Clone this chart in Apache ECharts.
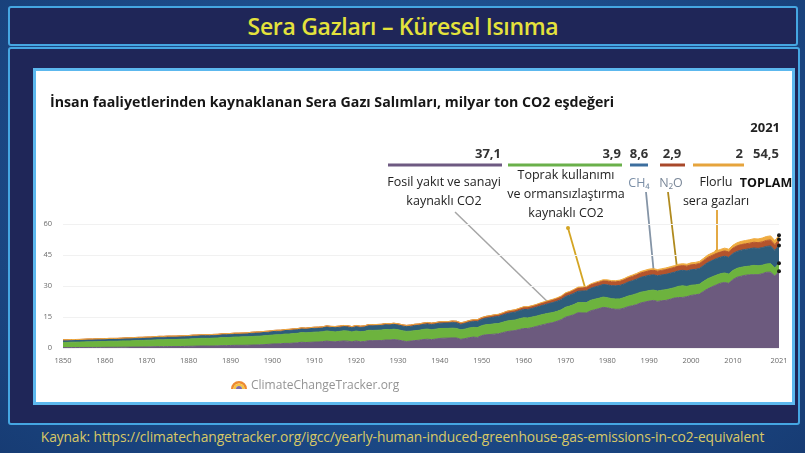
<!DOCTYPE html>
<html>
<head>
<meta charset="utf-8">
<script src="https://cdn.jsdelivr.net/npm/echarts@6/dist/echarts.min.js"></script>
<style>
  body { margin: 0; width: 805px; height: 453px; position: relative; overflow: hidden;
    background: radial-gradient(ellipse at 50% 40%, #2664a6 0%, #1c4a88 60%, #173c74 100%);
    font-family: 'Open Sans', 'DejaVu Sans', sans-serif; }
  .titlebox { position: absolute; left: 8px; top: 6px; width: 786px; height: 36px;
    background: #1f2658; border: 2px solid #45a6e2; border-radius: 3px; }
  .titlebox span { display: block; text-align: center; color: #e4e23c; font-size: 23px;
    font-weight: 600; line-height: 36px; letter-spacing: -0.3px; }
  .frame { position: absolute; left: 8px; top: 47px; width: 788px; height: 374px;
    background: #1f2658; border: 2px solid #45a6e2; border-radius: 3px; }
  .panel { position: absolute; left: 33px; top: 68px; width: 756px; height: 331px;
    background: #ffffff; border: 3px solid #5cb8ee; }
  .footer { position: absolute; left: 0; top: 427px; width: 805px; text-align: center;
    color: #d8c866; font-size: 13.8px; letter-spacing: -0.1px; }
  #chart { position: absolute; left: 0; top: 0; width: 805px; height: 453px; }
</style>
</head>
<body>
<div class="titlebox"><span>Sera Gazları – Küresel Isınma</span></div>
<div class="frame"></div>
<div class="panel"></div>
<div class="footer">Kaynak: https://climatechangetracker.org/igcc/yearly-human-induced-greenhouse-gas-emissions-in-co2-equivalent</div>
<div id="chart"></div>
<script>
// yıllar 1850-2021
const years = []
for (let y = 1850; y <= 2021; y++) years.push(String(y))

// milyar ton CO2 eşdeğeri
const fossilCO2 = [
  0.20, 0.20, 0.21, 0.22, 0.25, 0.25, 0.27, 0.27, 0.28, 0.30,
  0.33, 0.35, 0.35, 0.37, 0.40, 0.42, 0.43, 0.46, 0.47, 0.50,
  0.52, 0.56, 0.62, 0.66, 0.64, 0.68, 0.69, 0.70, 0.71, 0.76,
  0.83, 0.86, 0.91, 0.97, 0.97, 0.96, 0.98, 1.04, 1.13, 1.13,
  1.23, 1.30, 1.31, 1.30, 1.35, 1.42, 1.46, 1.53, 1.61, 1.76,
  1.95, 1.99, 2.04, 2.24, 2.23, 2.37, 2.49, 2.79, 2.64, 2.76,
  2.86, 2.92, 3.07, 3.35, 3.07, 3.00, 3.22, 3.40, 3.32, 2.96,
  3.42, 2.98, 3.15, 3.55, 3.52, 3.58, 3.57, 3.85, 3.85, 4.09,
  3.84, 3.47, 3.14, 3.33, 3.59, 3.75, 4.07, 4.26, 4.05, 4.31,
  4.63, 4.76, 4.78, 4.89, 4.85, 4.20, 4.53, 4.98, 5.27, 5.10,
  6.00, 6.39, 6.51, 6.70, 6.85, 7.43, 7.91, 8.21, 8.43, 8.95,
  9.42, 9.45, 9.84, 10.39, 10.93, 11.42, 11.93, 12.28, 12.93, 13.71,
  14.89, 15.47, 16.11, 17.07, 16.97, 16.96, 17.96, 18.51, 19.06, 19.63,
  19.45, 18.97, 18.72, 18.77, 19.29, 20.04, 20.44, 21.00, 21.80, 22.25,
  22.70, 23.01, 22.55, 22.85, 23.03, 23.55, 24.17, 24.43, 24.48, 24.81,
  25.45, 25.73, 26.07, 27.44, 28.65, 29.58, 30.51, 31.32, 31.70, 31.28,
  33.12, 34.24, 34.75, 35.21, 35.43, 35.48, 35.47, 35.95, 36.65, 36.70,
  34.81, 37.12
]
const landUseCO2 = [
  2.5, 2.5, 2.6, 2.6, 2.6, 2.7, 2.7, 2.7, 2.8, 2.8,
  2.8, 2.9, 2.9, 2.9, 3.0, 3.0, 3.0, 3.1, 3.1, 3.1,
  3.2, 3.2, 3.3, 3.3, 3.3, 3.4, 3.4, 3.4, 3.5, 3.5,
  3.5, 3.6, 3.6, 3.7, 3.7, 3.7, 3.8, 3.8, 3.9, 3.9,
  3.9, 4.0, 4.0, 4.1, 4.1, 4.1, 4.2, 4.2, 4.3, 4.3,
  4.3, 4.4, 4.4, 4.5, 4.5, 4.6, 4.6, 4.7, 4.7, 4.7,
  4.8, 4.8, 4.8, 4.9, 4.9, 4.8, 4.8, 4.9, 4.9, 4.8,
  4.8, 4.9, 4.9, 5.0, 5.0, 5.0, 5.1, 5.1, 5.0, 5.0,
  5.0, 4.9, 4.9, 4.8, 4.8, 4.8, 4.9, 4.9, 4.8, 4.8,
  4.8, 4.7, 4.7, 4.7, 4.6, 4.6, 4.6, 4.7, 4.7, 4.8,
  4.8, 4.9, 4.9, 5.0, 5.0, 5.0, 5.1, 5.1, 5.1, 5.2,
  5.2, 5.1, 5.1, 5.0, 5.0, 5.0, 4.9, 4.9, 4.8, 4.8,
  4.8, 4.8, 4.9, 4.9, 5.0, 5.0, 5.1, 5.1, 5.0, 5.0,
  4.9, 4.9, 5.0, 5.0, 5.1, 5.1, 5.2, 5.3, 5.2, 5.1,
  5.1, 5.0, 5.0, 5.1, 5.2, 5.1, 5.0, 5.4, 5.6, 5.0,
  4.9, 4.8, 4.8, 4.8, 4.9, 4.8, 4.7, 4.6, 4.6, 4.5,
  4.4, 4.3, 4.3, 4.2, 4.2, 4.5, 4.3, 4.1, 4.0, 4.1,
  3.9, 3.9
]
const methane = [
  1.0, 1.0, 1.0, 1.0, 1.0, 1.0, 1.1, 1.1, 1.1, 1.1,
  1.1, 1.1, 1.1, 1.1, 1.1, 1.2, 1.2, 1.2, 1.2, 1.2,
  1.2, 1.2, 1.2, 1.3, 1.3, 1.3, 1.3, 1.3, 1.3, 1.3,
  1.3, 1.4, 1.4, 1.4, 1.4, 1.4, 1.4, 1.4, 1.5, 1.5,
  1.5, 1.5, 1.5, 1.5, 1.5, 1.6, 1.6, 1.6, 1.6, 1.6,
  1.7, 1.7, 1.7, 1.7, 1.8, 1.8, 1.8, 1.8, 1.8, 1.9,
  1.9, 1.9, 1.9, 2.0, 2.0, 2.0, 2.0, 2.0, 2.0, 2.0,
  2.1, 2.1, 2.1, 2.2, 2.2, 2.2, 2.2, 2.3, 2.3, 2.3,
  2.3, 2.3, 2.3, 2.3, 2.4, 2.4, 2.4, 2.5, 2.5, 2.5,
  2.6, 2.6, 2.6, 2.7, 2.7, 2.6, 2.7, 2.8, 2.8, 2.9,
  3.0, 3.1, 3.2, 3.3, 3.4, 3.5, 3.6, 3.7, 3.8, 3.9,
  4.0, 4.1, 4.2, 4.3, 4.4, 4.5, 4.7, 4.8, 4.9, 5.0,
  5.2, 5.3, 5.4, 5.5, 5.6, 5.7, 5.8, 5.9, 6.0, 6.1,
  6.2, 6.3, 6.4, 6.5, 6.6, 6.8, 6.9, 7.0, 7.2, 7.3,
  7.4, 7.4, 7.4, 7.4, 7.4, 7.5, 7.5, 7.5, 7.5, 7.5,
  7.5, 7.5, 7.6, 7.7, 7.8, 7.9, 8.0, 8.0, 8.1, 8.1,
  8.2, 8.2, 8.3, 8.3, 8.4, 8.4, 8.4, 8.5, 8.5, 8.6,
  8.5, 8.6
]
const nitrousOxide = [
  0.3, 0.3, 0.3, 0.3, 0.3, 0.3, 0.3, 0.3, 0.3, 0.3,
  0.3, 0.3, 0.3, 0.3, 0.3, 0.3, 0.3, 0.3, 0.4, 0.4,
  0.4, 0.4, 0.4, 0.4, 0.4, 0.4, 0.4, 0.4, 0.4, 0.4,
  0.4, 0.4, 0.4, 0.4, 0.4, 0.4, 0.4, 0.4, 0.4, 0.4,
  0.4, 0.4, 0.4, 0.4, 0.4, 0.5, 0.5, 0.5, 0.5, 0.5,
  0.5, 0.5, 0.5, 0.5, 0.5, 0.5, 0.5, 0.5, 0.5, 0.5,
  0.5, 0.5, 0.5, 0.5, 0.5, 0.6, 0.6, 0.6, 0.6, 0.6,
  0.6, 0.6, 0.6, 0.6, 0.6, 0.6, 0.6, 0.6, 0.6, 0.6,
  0.6, 0.6, 0.6, 0.7, 0.7, 0.7, 0.7, 0.7, 0.7, 0.7,
  0.7, 0.7, 0.7, 0.8, 0.8, 0.8, 0.8, 0.8, 0.9, 0.9,
  0.9, 0.9, 1.0, 1.0, 1.0, 1.0, 1.1, 1.1, 1.1, 1.1,
  1.2, 1.2, 1.2, 1.2, 1.3, 1.3, 1.3, 1.4, 1.4, 1.4,
  1.5, 1.5, 1.6, 1.6, 1.6, 1.7, 1.7, 1.8, 1.8, 1.8,
  1.9, 1.9, 1.9, 2.0, 2.0, 2.0, 2.1, 2.1, 2.1, 2.2,
  2.2, 2.2, 2.2, 2.2, 2.3, 2.3, 2.3, 2.3, 2.3, 2.3,
  2.4, 2.4, 2.4, 2.4, 2.5, 2.5, 2.5, 2.5, 2.6, 2.6,
  2.6, 2.7, 2.7, 2.7, 2.7, 2.8, 2.8, 2.8, 2.9, 2.9,
  2.8, 2.9
]
const fluorinated = [
  0, 0, 0, 0, 0, 0, 0, 0, 0, 0,
  0, 0, 0, 0, 0, 0, 0, 0, 0, 0,
  0, 0, 0, 0, 0, 0, 0, 0, 0, 0,
  0, 0, 0, 0, 0, 0, 0, 0, 0, 0,
  0, 0, 0, 0, 0, 0, 0, 0, 0, 0,
  0, 0, 0, 0, 0, 0, 0, 0, 0, 0,
  0, 0, 0, 0, 0, 0, 0, 0, 0, 0,
  0, 0, 0, 0, 0, 0, 0, 0, 0, 0,
  0, 0, 0, 0, 0, 0, 0, 0, 0, 0,
  0, 0, 0, 0, 0, 0, 0.01, 0.01, 0.02, 0.02,
  0.03, 0.04, 0.05, 0.06, 0.07, 0.08, 0.09, 0.10, 0.11, 0.12,
  0.13, 0.14, 0.15, 0.17, 0.18, 0.20, 0.21, 0.23, 0.25, 0.27,
  0.30, 0.32, 0.35, 0.37, 0.40, 0.40, 0.42, 0.44, 0.47, 0.50,
  0.52, 0.54, 0.56, 0.58, 0.60, 0.63, 0.66, 0.70, 0.73, 0.76,
  0.78, 0.78, 0.79, 0.80, 0.82, 0.84, 0.86, 0.88, 0.90, 0.93,
  0.96, 0.99, 1.03, 1.07, 1.12, 1.17, 1.22, 1.27, 1.32, 1.35,
  1.42, 1.49, 1.55, 1.60, 1.66, 1.72, 1.78, 1.84, 1.90, 1.95,
  1.96, 2.00
]
const yTicks = [0, 15, 30, 45, 60]

const seriesNames = ['Fosil yakıt ve sanayi kaynaklı CO2', 'Toprak kullanımı ve ormansızlaştırma kaynaklı CO2', 'CH4', 'N2O', 'Florlu sera gazları']
const seriesData = [fossilCO2, landUseCO2, methane, nitrousOxide, fluorinated]
const seriesColors = ['#6c5a7e', '#6db33e', '#2e5d7c', '#b4542c', '#efab40']

const FONT = "'Open Sans', 'DejaVu Sans', sans-serif"

let myChart = echarts.init(document.getElementById('chart'), null, { renderer: 'canvas' })

// 2021'deki son noktaları siyah nokta ile göster
function withEndDot(arr) {
  return arr.map((v, i) => {
    if (i === arr.length - 1) {
      return { value: v, symbol: 'circle', symbolSize: 4, itemStyle: { color: '#1a1a1a' } }
    }
    return v
  })
}

function txt(text, x, y, opt) {
  return {
    type: 'text', x: x, y: y, silent: true,
    style: Object.assign({ text: text, fontFamily: FONT, fontSize: 12.5, fill: '#333', align: 'center', verticalAlign: 'middle' }, opt || {})
  }
}
function seg(x1, y1, x2, y2, color, w) {
  return { type: 'line', silent: true, shape: { x1: x1, y1: y1, x2: x2, y2: y2 }, style: { stroke: color, lineWidth: w || 1.5 } }
}
function dot(x, y, color, r) {
  return { type: 'circle', silent: true, shape: { cx: x, cy: y, r: r || 2 }, style: { fill: color } }
}

const graphics = [
  txt('2021', 780, 128, { align: 'right', fontWeight: 'bold', fontSize: 13, fill: '#222' }),
  // üst değerler
  txt('37,1', 501, 154, { align: 'right', fontWeight: 'bold', fontSize: 13 }),
  txt('3,9', 621, 154, { align: 'right', fontWeight: 'bold', fontSize: 13 }),
  txt('8,6', 639, 154, { fontWeight: 'bold', fontSize: 13 }),
  txt('2,9', 672, 154, { fontWeight: 'bold', fontSize: 13 }),
  txt('2', 743, 154, { align: 'right', fontWeight: 'bold', fontSize: 13 }),
  txt('54,5', 766, 154, { fontWeight: 'bold', fontSize: 13 }),
  seg(388, 165, 502, 165, '#6e5a82', 3),
  seg(508, 165, 622, 165, '#6ab04a', 3),
  seg(630, 165, 648, 165, '#3c6e9e', 3),
  seg(660, 165, 685, 165, '#a8482a', 3),
  seg(693, 165, 744, 165, '#e6a43c', 3),
  // etiketler
  txt('Fosil yakıt ve sanayi\nkaynaklı CO2', 444, 192, { lineHeight: 19, fill: '#222' }),
  txt('Toprak kullanımı\nve ormansızlaştırma\nkaynaklı CO2', 566, 194, { lineHeight: 19, fill: '#222' }),
  txt('CH₄', 639, 183, { fill: '#7a8ea6' }),
  txt('N₂O', 671, 183, { fill: '#7a8798' }),
  txt('Florlu\nsera gazları', 716, 192, { lineHeight: 19, fill: '#222' }),
  txt('TOPLAM', 766, 183, { fontWeight: 'bold', fill: '#111' }),
  // işaret çizgileri
  seg(455, 212, 587, 340, '#a6a6a6', 1.5), dot(587, 340, '#a6a6a6', 2.5),
  seg(568, 228, 590, 305, '#d4a524', 1.8), dot(568, 228, '#d4a524', 2), dot(590, 305, '#d4a524', 2.5),
  seg(646, 192, 655, 285, '#8494a6', 1.8), dot(655, 285, '#8494a6', 2.5),
  seg(668, 192, 677, 268, '#b08a1e', 1.8), dot(677, 268, '#b08a1e', 2.5),
  seg(717, 210, 717, 252, '#e0a030', 1.8), dot(717, 252, '#e0a030', 2.5),
  // alan içi etiket
  txt('Fosil yakıt ve sanayi kaynaklı CO2', 567, 328, { align: 'left', fill: '#f2ecf6', fontSize: 12.5 }),
  // ClimateChangeTracker.org logosu
  { type: 'sector', silent: true, shape: { cx: 239, cy: 389, r: 8, r0: 5.5, startAngle: Math.PI, endAngle: Math.PI * 2, clockwise: true }, style: { fill: '#ee8a32' } },
  { type: 'sector', silent: true, shape: { cx: 239, cy: 389, r: 5.5, r0: 3, startAngle: Math.PI, endAngle: Math.PI * 2, clockwise: true }, style: { fill: '#f6c544' } },
  { type: 'sector', silent: true, shape: { cx: 239, cy: 389, r: 3, r0: 0, startAngle: Math.PI, endAngle: Math.PI * 2, clockwise: true }, style: { fill: '#7f6aa8' } },
  txt('ClimateChangeTracker.org', 251, 386, { align: 'left', fill: '#949494', fontSize: 12 })
]

myChart.setOption({
  animation: false,
  title: {
    text: 'İnsan faaliyetlerinden kaynaklanan Sera Gazı Salımları, milyar ton CO2 eşdeğeri',
    left: 45,
    top: 91,
    textStyle: { fontFamily: FONT, fontSize: 14.2, fontWeight: 'bold', color: '#161616' }
  },
  grid: { left: 63, right: 26, top: 224, bottom: 105 },
  xAxis: {
    type: 'category',
    data: years,
    boundaryGap: false,
    axisLine: { show: false },
    axisTick: { show: false },
    axisLabel: {
      color: '#6a6a6a',
      fontSize: 7.5,
      fontFamily: FONT,
      margin: 9,
      interval: function (i, v) {
        let y = +v
        return (y % 10 === 0 && y < 2020) || y === 2021
      }
    }
  },
  yAxis: {
    type: 'value',
    min: yTicks[0],
    max: yTicks[yTicks.length - 1],
    interval: 15,
    axisLine: { show: false },
    axisTick: { show: false },
    axisLabel: { color: '#6a6a6a', fontSize: 7.5, fontFamily: FONT, margin: 11 },
    splitLine: { lineStyle: { color: '#f1f1f1' } }
  },
  series: seriesNames.map((name, i) => ({
    name: name,
    type: 'line',
    stack: 'toplam',
    symbol: 'none',
    showSymbol: true,
    lineStyle: { width: 1, color: seriesColors[i] },
    itemStyle: { color: seriesColors[i] },
    areaStyle: { color: seriesColors[i], opacity: 1 },
    data: withEndDot(seriesData[i])
  })),
  graphic: graphics
})
</script>
</body>
</html>
